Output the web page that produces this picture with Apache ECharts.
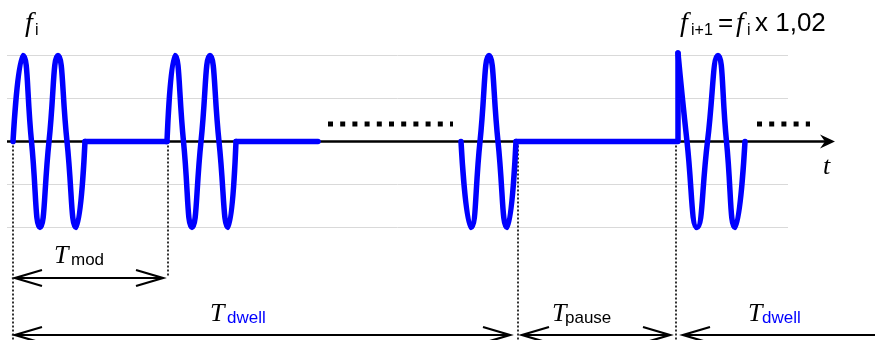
<!DOCTYPE html>
<html><head><meta charset="utf-8">
<script src="https://cdn.jsdelivr.net/npm/echarts@6/dist/echarts.min.js"></script>
<style>html,body{margin:0;padding:0;background:#fff}#c{width:875px;height:340px}</style>
</head><body><div id="c"></div>
<script>
// ---- data (time in t units, amplitude normalised to ±1) ----
const burst1 = [[13,0],[23,1],[31.5,0],[40,-1],[49,0],[58,1],[67,0],[76,-1],[85,0]];
const burst2 = [[167,0],[175,1],[183.5,0],[192,-1],[201,0],[210,1],[219,0],[228,-1],[236,0]];
const burst3 = [[461,0],[471,-1],[480,0],[489,1],[498,0],[507,-1],[516,0]];
const burst4 = [[678,1.03],[687,0],[697,-1],[707.5,0],[718,1],[726.5,0],[735,-1],[745,0]];
const rest1 = [[85,0],[167,0]];
const rest2 = [[236,0],[318,0]];
const rest3 = [[516,0],[678,0],[678,1.03]];
const ellipsisSpans = [[328,453],[757,810]];
const guideTimes = [13,168,518,676];
const guideRow = ['dwell','mod','dwell','dwell'];
const spanFrom = [15,15,522,683];
const spanTo = [163,510,670,900];
const spanHeads = ['both','both','both','left'];
const spanRow = ['mod','dwell','dwell','dwell'];
const axisSpan = [7,835];
const ampTicks = [-1,-0.5,0,0.5,1];

// ---- layout / style ----
const BLUE = '#0000ff';
const ROW_Y = {mod: 278, dwell: 335};
const GUIDE_END = {mod: 276, dwell: 340};
const SERIF = "'Liberation Serif', 'Times New Roman', serif";
const SANS = "'Liberation Sans', Arial, sans-serif";

function txt(x, base, text, size, opts) {
  opts = opts || {};
  const fam = opts.serif ? SERIF : SANS;
  const k = opts.serif ? 0.3375 : 0.3465;
  return {
    type: 'text', x: x, y: base - k * size, silent: true,
    style: {
      text: text,
      font: (opts.serif ? 'italic ' : '') + size + 'px ' + fam,
      fill: opts.color || '#000',
      align: 'left', verticalAlign: 'middle'
    }
  };
}

const waveStyle = {color: BLUE, width: 5.5, cap: 'round', join: 'round'};
function waveSeries(data, smooth) {
  return {type: 'line', data: data, smooth: smooth ? 0.55 : false, symbol: 'none', clip: false,
    lineStyle: waveStyle, z: 5, animation: false};
}

const chart = echarts.init(document.getElementById('c'), null, {renderer: 'canvas'});
chart.setOption({
  animation: false,
  grid: {left: 7, right: 87, top: 55.5, bottom: 112.5},
  xAxis: {type: 'value', min: 7, max: 788, show: false},
  yAxis: {type: 'value', min: ampTicks[0], max: ampTicks[ampTicks.length-1], interval: 0.5,
    axisLine: {show: false}, axisTick: {show: false}, axisLabel: {show: false},
    splitLine: {show: true, lineStyle: {color: '#d9d9d9', width: 1}}},
  series: [
    // time axis with arrow
    {type: 'custom', clip: false, z: 2, data: [axisSpan],
      renderItem: function (params, api) {
        const a = api.coord([api.value(0), 0]);
        const b = api.coord([api.value(1), 0]);
        const y = a[1];
        return {type: 'group', children: [
          {type: 'line', shape: {x1: a[0], y1: y, x2: b[0] - 8, y2: y}, style: {stroke: '#000', lineWidth: 2.6}},
          {type: 'polygon', shape: {points: [[b[0], y], [b[0] - 15, y - 7], [b[0] - 10, y], [b[0] - 15, y + 7]]},
            style: {fill: '#000'}}
        ]};
      }},
    // dotted guide lines
    {type: 'custom', clip: false, z: 3, data: guideTimes.map((t, i) => [t, i]),
      renderItem: function (params, api) {
        const p = api.coord([api.value(0), 0]);
        const row = guideRow[api.value(1)];
        return {type: 'line', shape: {x1: p[0], y1: p[1], x2: p[0], y2: GUIDE_END[row]},
          style: {stroke: '#000', lineWidth: 1.6, lineDash: [2, 2]}};
      }},
    // dimension arrows
    {type: 'custom', clip: false, z: 3, data: spanFrom.map((f, i) => [f, spanTo[i], i]),
      renderItem: function (params, api) {
        const i = api.value(2);
        const x1 = api.coord([api.value(0), 0])[0];
        const x2 = api.coord([api.value(1), 0])[0];
        const y = ROW_Y[spanRow[i]];
        const st = {stroke: '#000', lineWidth: 2.2, fill: null};
        const ch = [{type: 'line', shape: {x1: x1, y1: y, x2: x2, y2: y}, style: st}];
        const dx = 27, dy = 8;
        if (spanHeads[i] === 'both' || spanHeads[i] === 'left')
          ch.push({type: 'polyline', shape: {points: [[x1 + dx, y - dy], [x1, y], [x1 + dx, y + dy]]}, style: st});
        if (spanHeads[i] === 'both' || spanHeads[i] === 'right')
          ch.push({type: 'polyline', shape: {points: [[x2 - dx, y - dy], [x2, y], [x2 - dx, y + dy]]}, style: st});
        return {type: 'group', children: ch};
      }},
    // ellipsis dots
    {type: 'custom', clip: false, z: 3, data: ellipsisSpans,
      renderItem: function (params, api) {
        const a = api.coord([api.value(0), 0]);
        const b = api.coord([api.value(1), 0]);
        const y = a[1] - 17.5;
        return {type: 'line', shape: {x1: a[0], y1: y, x2: b[0], y2: y},
          style: {stroke: '#000', lineWidth: 5, lineDash: [5, 7.2], lineCap: 'butt'}};
      }},
    waveSeries(rest1, false), waveSeries(rest2, false), waveSeries(rest3, false),
    waveSeries(burst1, true), waveSeries(burst2, true), waveSeries(burst3, true), waveSeries(burst4, true)
  ],
  graphic: {elements: [
    txt(25, 33, 'f', 28, {serif: true}), txt(35, 36, 'i', 16),
    txt(680, 33, 'f', 28, {serif: true}), txt(691, 36, 'i+1', 16),
    txt(718, 33, '=', 26), txt(736, 33, 'f', 28, {serif: true}), txt(747, 36, 'i', 16),
    txt(755, 33, 'x 1,02', 26),
    txt(823, 176, 't', 26, {serif: true}),
    txt(54, 265, 'T', 26, {serif: true}), txt(71, 266, 'mod', 17),
    txt(210, 323, 'T', 26, {serif: true}), txt(227, 324, 'dwell', 17, {color: BLUE}),
    txt(552, 323, 'T', 26, {serif: true}), txt(565, 324, 'pause', 17),
    txt(748, 323, 'T', 26, {serif: true}), txt(762, 324, 'dwell', 17, {color: BLUE})
  ]}
});
</script></body></html>
